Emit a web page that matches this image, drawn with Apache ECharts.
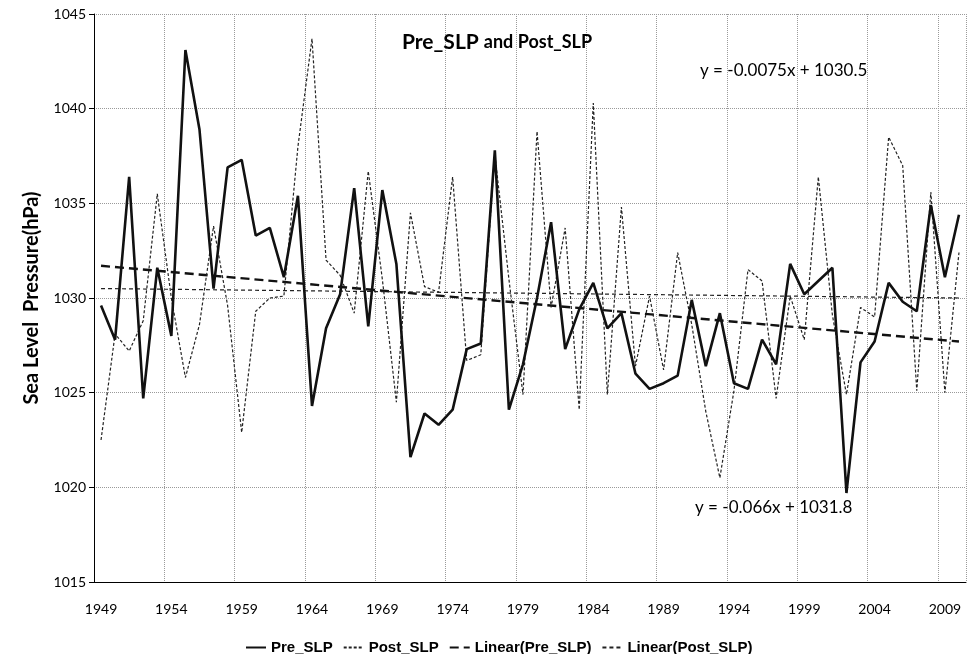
<!DOCTYPE html>
<html>
<head>
<meta charset="utf-8">
<title>Pre_SLP and Post_SLP</title>
<script src="https://cdn.jsdelivr.net/npm/echarts@6/dist/echarts.min.js"></script>
<style>
  html, body { margin: 0; padding: 0; background: #fff; }
  #chart { width: 969px; height: 654px; }
</style>
</head>
<body>
<div id="chart"></div>
<script>
// years on the category axis
const years = ['1949', '1950', '1951', '1952', '1953', '1954', '1955', '1956', '1957', '1958',
  '1959', '1960', '1961', '1962', '1963', '1964', '1965', '1966', '1967', '1968',
  '1969', '1970', '1971', '1972', '1973', '1974', '1975', '1976', '1977', '1978',
  '1979', '1980', '1981', '1982', '1983', '1984', '1985', '1986', '1987', '1988',
  '1989', '1990', '1991', '1992', '1993', '1994', '1995', '1996', '1997', '1998',
  '1999', '2000', '2001', '2002', '2003', '2004', '2005', '2006', '2007', '2008',
  '2009', '2010']

// sea level pressure (hPa)
const preSLP = [1029.6, 1027.8, 1036.4, 1024.7, 1031.6, 1028.0, 1043.1, 1038.9, 1030.5, 1036.9,
  1037.3, 1033.3, 1033.7, 1031.1, 1035.4, 1024.3, 1028.4, 1030.2, 1035.8, 1028.5,
  1035.7, 1031.8, 1021.6, 1023.9, 1023.3, 1024.1, 1027.3, 1027.6, 1037.8, 1024.1,
  1026.5, 1030.0, 1034.0, 1027.3, 1029.4, 1030.8, 1028.4, 1029.2, 1026.0, 1025.2,
  1025.5, 1025.9, 1029.9, 1026.4, 1029.2, 1025.5, 1025.2, 1027.8, 1026.5, 1031.8,
  1030.2, 1030.9, 1031.6, 1019.7, 1026.6, 1027.7, 1030.8, 1029.8, 1029.3, 1034.9,
  1031.1, 1034.4]

const postSLP = [1022.5, 1028.1, 1027.2, 1028.8, 1035.5, 1030.0, 1025.8, 1028.6, 1033.8, 1029.6,
  1022.9, 1029.3, 1030.0, 1030.1, 1038.0, 1043.7, 1032.0, 1031.2, 1029.2, 1036.7,
  1031.0, 1024.5, 1034.5, 1030.6, 1030.3, 1036.4, 1026.7, 1027.0, 1037.6, 1031.0,
  1024.9, 1038.8, 1029.5, 1033.7, 1024.1, 1040.3, 1024.9, 1034.8, 1026.4, 1030.1,
  1026.2, 1032.4, 1028.6, 1024.0, 1020.5, 1025.1, 1031.5, 1030.9, 1024.7, 1030.1,
  1027.8, 1036.4, 1029.1, 1024.9, 1029.5, 1029.0, 1038.5, 1037.0, 1025.1, 1035.6,
  1025.0, 1032.4]

// trend line end values (first and last year)
const preTrend = [1031.7, 1027.7]
const postTrend = [1030.5, 1030.0]

const yTicks = { min: 1015, max: 1045, step: 5 }

const chart = echarts.init(document.getElementById('chart'))

const labelFont = 'Lato, "Open Sans", sans-serif'
const gridLine = { color: '#9a9a9a', type: 'dotted', width: 1 }

function trendData(ends) {
  return [[years[0], ends[0]], [years[years.length - 1], ends[1]]]
}

chart.setOption({
  animation: false,
  backgroundColor: '#fff',
  title: {
    text: '{a|Pre_SLP} {b|and Post_SLP}',
    left: 397,
    top: 27,
    textStyle: {
      rich: {
        a: { fontFamily: labelFont, fontWeight: 'bold', fontSize: 21, color: '#000' },
        b: { fontFamily: labelFont, fontWeight: 'bold', fontSize: 18, color: '#000' }
      }
    }
  },
  grid: {
    left: 94,
    right: 3,
    top: 14,
    bottom: 72
  },
  legend: {
    left: 240,
    top: 635,
    itemWidth: 20,
    itemHeight: 10,
    itemGap: 10,
    itemStyle: { opacity: 0 },
    textStyle: {
      fontFamily: '"Liberation Sans", Arial, sans-serif',
      fontWeight: 'bold',
      fontSize: 15,
      color: '#000'
    },
    data: ['Pre_SLP', 'Post_SLP', 'Linear(Pre_SLP)', 'Linear(Post_SLP)']
  },
  xAxis: {
    type: 'category',
    data: years,
    boundaryGap: true,
    axisLine: { lineStyle: { color: '#000', width: 1 } },
    axisTick: { interval: 4, length: 5, lineStyle: { color: '#000' } },
    axisLabel: { interval: 4, margin: 20, fontSize: 14, color: '#000', fontFamily: labelFont },
    splitLine: { show: true, interval: 4, lineStyle: gridLine }
  },
  yAxis: {
    type: 'value',
    min: yTicks.min,
    max: yTicks.max,
    interval: yTicks.step,
    name: 'Sea Level  Pressure(hPa)',
    nameLocation: 'middle',
    nameGap: 52,
    nameTextStyle: { fontFamily: labelFont, fontWeight: 'bold', fontSize: 20, color: '#000' },
    axisLine: { show: true, lineStyle: { color: '#000', width: 1 } },
    axisTick: { show: true, length: 5, lineStyle: { color: '#000' } },
    axisLabel: {
      margin: 8, fontSize: 14, color: '#000', fontFamily: labelFont,
      formatter: v => String(v)
    },
    splitLine: { show: true, lineStyle: gridLine }
  },
  graphic: [
    {
      type: 'text',
      left: 700,
      top: 62,
      style: { text: 'y = -0.0075x + 1030.5', font: '17px Lato, sans-serif', fill: '#000' }
    },
    {
      type: 'text',
      left: 695,
      top: 499,
      style: { text: 'y = -0.066x + 1031.8', font: '17px Lato, sans-serif', fill: '#000' }
    }
  ],
  series: [
    {
      name: 'Pre_SLP',
      type: 'line',
      data: preSLP,
      symbol: 'none',
      z: 5,
      itemStyle: { color: '#111' },
      lineStyle: { color: '#111', width: 2.6 }
    },
    {
      name: 'Post_SLP',
      type: 'line',
      data: postSLP,
      symbol: 'none',
      z: 4,
      itemStyle: { color: '#222' },
      lineStyle: { color: '#222', width: 1.2, type: [3, 2] }
    },
    {
      name: 'Linear(Pre_SLP)',
      type: 'line',
      data: trendData(preTrend),
      symbol: 'none',
      z: 3,
      itemStyle: { color: '#111' },
      lineStyle: { color: '#111', width: 2.4, type: [9, 5] }
    },
    {
      name: 'Linear(Post_SLP)',
      type: 'line',
      data: trendData(postTrend),
      symbol: 'none',
      z: 3,
      itemStyle: { color: '#222' },
      lineStyle: { color: '#222', width: 1.2, type: [4, 3] }
    }
  ]
})
</script>
</body>
</html>
